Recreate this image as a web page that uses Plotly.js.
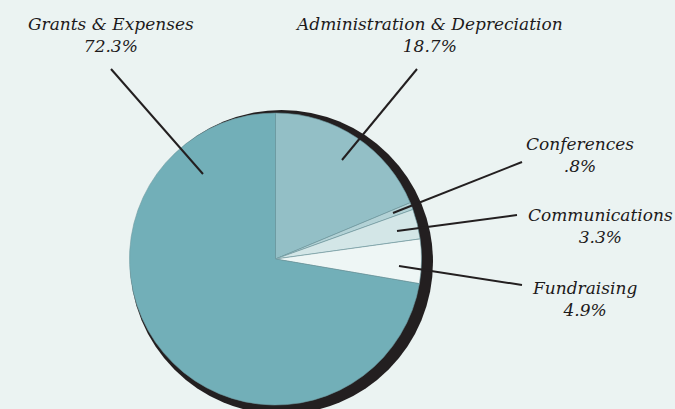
<!DOCTYPE html>
<html>
<head>
<meta charset="utf-8">
<script src="https://cdn.plot.ly/plotly-3.0.1.min.js"></script>
<style>
html,body{margin:0;padding:0;background:#ebf3f2;}
#chart{width:675px;height:409px;}
</style>
</head>
<body>
<div id="chart"></div>
<script>
// Data
const categories = ["Administration & Depreciation", "Conferences", "Communications", "Fundraising", "Grants & Expenses"];
const values = [18.7, 0.8, 3.3, 4.9, 72.3];
const valueLabels = ["18.7%", ".8%", "3.3%", "4.9%", "72.3%"];
const sliceColors = ["#93bfc6", "#b3d2d6", "#d3e6e7", "#eef6f5", "#72afb8"];

const W = 675, H = 409;
const px = x => x / W;
const py = y => 1 - y / H;

// Pie geometry (pixels)
const cx = 275.5, cy = 259, r = 146;

// Label layout (pixels): center of each label block, per category
const labelPos = {
  "Grants & Expenses": [111, 35],
  "Administration & Depreciation": [429, 35],
  "Conferences": [580, 155],
  "Communications": [600, 226],
  "Fundraising": [584, 299]
};
// Leader lines (pixels): [x0, y0, x1, y1]
const leaders = {
  "Grants & Expenses": [203, 174, 111, 69],
  "Administration & Depreciation": [342, 160, 417, 69],
  "Conferences": [393, 213, 522, 162],
  "Communications": [397, 231, 517, 215],
  "Fundraising": [399, 266, 522, 285]
};

const trace = {
  type: "pie",
  labels: categories,
  values: values,
  sort: false,
  direction: "clockwise",
  rotation: 0,
  textinfo: "none",
  hoverinfo: "none",
  marker: { colors: sliceColors, line: { color: "#6f9ba1", width: 0.6 } },
  domain: { x: [px(cx - r), px(cx + r)], y: [py(cy + r), py(cy - r)] },
  showlegend: false
};

const annotations = categories.map((c, i) => ({
  xref: "paper", yref: "paper",
  x: px(labelPos[c][0]), y: py(labelPos[c][1]),
  xanchor: "center", yanchor: "middle",
  text: c + "<br>" + valueLabels[i],
  showarrow: false,
  align: "center",
  font: { family: "DejaVu Serif", size: 17, color: "#1d1a1b", style: "italic" }
}));

const shapes = [
  { type: "circle", xref: "paper", yref: "paper", layer: "below",
    x0: px(130), x1: px(433), y0: py(414), y1: py(110),
    fillcolor: "#231f20", line: { width: 0 } }
].concat(categories.map(c => {
  const l = leaders[c];
  return { type: "line", xref: "paper", yref: "paper",
    x0: px(l[0]), y0: py(l[1]), x1: px(l[2]), y1: py(l[3]),
    line: { color: "#231f20", width: 2 } };
}));

const layout = {
  width: W, height: H,
  margin: { l: 0, r: 0, t: 0, b: 0 },
  paper_bgcolor: "#ebf3f2",
  plot_bgcolor: "#ebf3f2",
  annotations: annotations,
  shapes: shapes,
  showlegend: false
};

Plotly.newPlot("chart", [trace], layout, { displayModeBar: false, staticPlot: true });
</script>
</body>
</html>
